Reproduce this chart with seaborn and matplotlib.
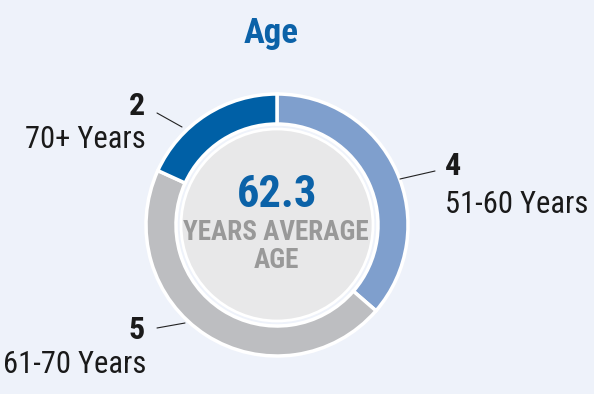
import seaborn as sns
import matplotlib.pyplot as plt

# data
groups = ['51-60 Years', '61-70 Years', '70+ Years']
counts = [4, 5, 2]
avg_age = 62.3

colors = ['#7F9FCD', '#BDBEC1', '#0060A6']
bg = '#EEF2FA'

sns.set_style('white')
plt.rcParams['font.family'] = ['Roboto Condensed', 'Liberation Sans', 'DejaVu Sans']

fig = plt.figure(figsize=(5.94, 3.94), dpi=100, facecolor=bg)
ax = fig.add_axes([0, 0, 1, 1])
ax.set_facecolor(bg)

H = 394
cx, cy, r = 277, H - 225, 131

ax.pie(counts, colors=colors, startangle=90, counterclock=False,
       center=(cx, cy), radius=r,
       wedgeprops=dict(width=30, edgecolor='white', linewidth=2.5))
ax.add_patch(plt.Circle((cx, cy), 96, facecolor='#E8E8E9', edgecolor='white', lw=2))

ax.set_xlim(0, 594)
ax.set_ylim(0, H)
ax.set_aspect('equal')
ax.axis('off')

# title and centre text
ax.text(271, H - 43, 'Age', ha='center', va='baseline', fontsize=25,
        fontweight='bold', color='#0B62A8')
ax.text(277, H - 207, f'{avg_age}', ha='center', va='baseline', fontsize=32,
        fontweight='bold', color='#0B62A8')
ax.text(276, H - 240, 'YEARS AVERAGE', ha='center', va='baseline', fontsize=19.5,
        fontweight='bold', color='#999999')
ax.text(276, H - 268, 'AGE', ha='center', va='baseline', fontsize=19.5,
        fontweight='bold', color='#999999')

# labels: (num x, num y, name x, name y, align, line from, line to)
layout = [
    (445, 175, 445, 213, 'left', (400, 179), (435, 171)),
    (145, 339, 146, 373, 'right', (185, 323), (157, 328)),
    (145, 115, 146, 148, 'right', (182, 127), (157, 113)),
]
for g, n, (nx, ny, tx, ty, ha, p0, p1) in zip(groups, counts, layout):
    ax.plot([p0[0], p1[0]], [H - p0[1], H - p1[1]], color='#222222', lw=0.8)
    ax.text(nx, H - ny, str(n), ha=ha, va='baseline', fontsize=23,
            fontweight='bold', color='#1a1a1a')
    ax.text(tx, H - ty, g, ha=ha, va='baseline', fontsize=22, color='#1a1a1a')

fig.savefig('out.png', dpi=100, facecolor=bg)
